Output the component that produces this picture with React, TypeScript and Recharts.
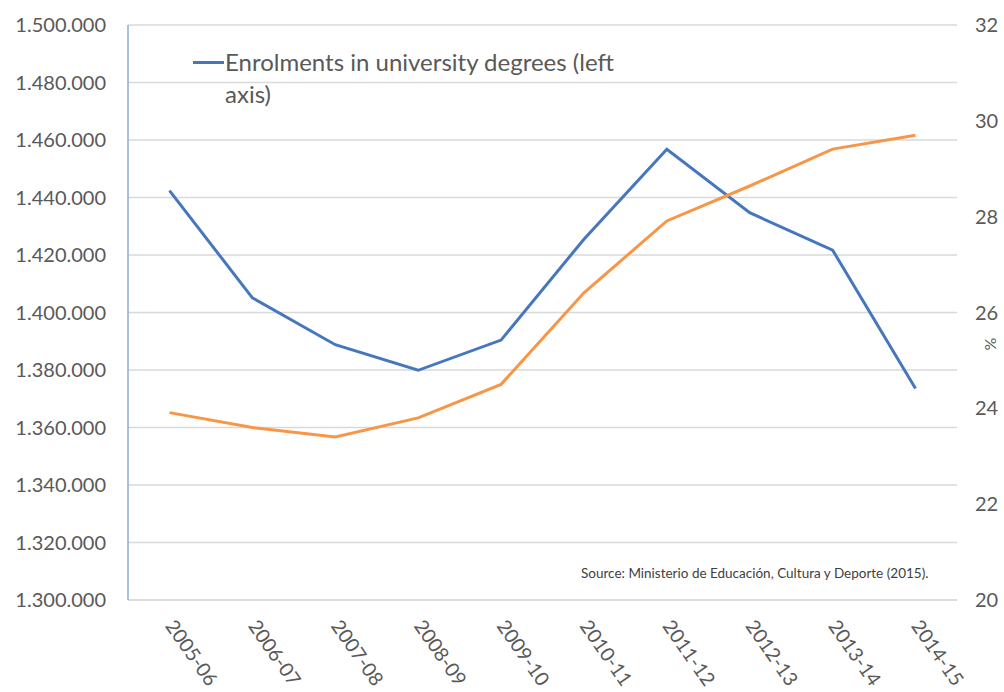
import React from 'react';
import { LineChart, Line, XAxis, YAxis, CartesianGrid } from 'recharts';

// academic years on the x axis
const years = [
    '2005-06', '2006-07', '2007-08', '2008-09', '2009-10',
    '2010-11', '2011-12', '2012-13', '2013-14', '2014-15',
];

// left axis: number of students enrolled
const enrolments = [
    1442400, 1405100, 1388800, 1379900, 1390400,
    1425500, 1456800, 1434700, 1421700, 1373600,
];

// right axis: percentage
const percentShare = [23.91, 23.6, 23.4, 23.8, 24.5, 26.41, 27.91, 28.64, 29.41, 29.7];

const leftTicks = [
    1300000, 1320000, 1340000, 1360000, 1380000, 1400000,
    1420000, 1440000, 1460000, 1480000, 1500000,
];
const rightTicks = [20, 22, 24, 26, 28, 30, 32];

const enrolmentsName = 'Enrolments in university degrees (left axis)';
const percentName = 'Percentage (right axis)';
const sourceNote = 'Source: Ministerio de Educación, Cultura y Deporte (2015).';

const data = years.map((year, i) => ({
    year,
    enrolments: enrolments[i],
    percent: percentShare[i],
}));

const BLUE = '#4677BE';
const ORANGE = '#F79646';
const TEXT = '#595959';
const GRID = '#D9D9D9';

const formatThousands = (v: number) => String(v).replace(/\B(?=(\d{3})+(?!\d))/g, '.');

const YearTick = ({ x, y, payload }: any) => {
    const ax = x - 5;
    const ay = y + 18;
    return (
        <text x={ax} y={ay} transform={`rotate(55, ${ax}, ${ay})`} textAnchor="start" fill={TEXT} fontSize={19.5}>
            {payload.value}
        </text>
    );
};

export default function App() {
    return (
        <div style={{ position: 'absolute', left: 0, top: 0, width: 1004, height: 692, background: '#fff', fontFamily: 'Lato, sans-serif' }}>
            <LineChart width={1004} height={692} data={data} margin={{ top: 25, right: 0, bottom: 0, left: 0 }}>
                <CartesianGrid yAxisId="left" vertical={false} stroke={GRID} strokeWidth={1.5} />
                <XAxis
                    dataKey="year"
                    height={92}
                    padding={{ left: 41.5, right: 41.5 }}
                    tickLine={false}
                    axisLine={{ stroke: GRID, strokeWidth: 1.5 }}
                    tick={<YearTick />}
                    interval={0}
                />
                <YAxis
                    yAxisId="left"
                    width={128}
                    domain={[1300000, 1500000]}
                    ticks={leftTicks}
                    tickFormatter={formatThousands}
                    tickLine={false}
                    axisLine={{ stroke: '#8FAADC', strokeWidth: 1.5 }}
                    tickMargin={16}
                    tick={{ fill: TEXT, fontSize: 20 }}
                />
                <YAxis
                    yAxisId="right"
                    orientation="right"
                    width={47}
                    domain={[20, 32]}
                    ticks={rightTicks}
                    tickLine={false}
                    axisLine={false}
                    tickMargin={12}
                    tick={{ fill: TEXT, fontSize: 20 }}
                />
                <Line
                    yAxisId="left"
                    dataKey="enrolments"
                    name={enrolmentsName}
                    stroke={BLUE}
                    strokeWidth={3}
                    dot={false}
                    activeDot={false}
                    isAnimationActive={false}
                />
                <Line
                    yAxisId="right"
                    dataKey="percent"
                    name={percentName}
                    stroke={ORANGE}
                    strokeWidth={3}
                    dot={false}
                    activeDot={false}
                    isAnimationActive={false}
                />
            </LineChart>
            {/* legend shows only the enrolments series, as in the original */}
            <div style={{ position: 'absolute', left: 193, top: 46, display: 'flex', alignItems: 'flex-start' }}>
                <span style={{ display: 'inline-block', width: 31, height: 3, background: BLUE, marginTop: 15, marginRight: 1 }} />
                <span style={{ fontSize: 24, lineHeight: '32px', color: TEXT, whiteSpace: 'pre-line' }}>
                    {enrolmentsName.replace(' axis)', '\naxis)')}
                </span>
            </div>
            <div style={{ position: 'absolute', left: 581, top: 565, fontSize: 13.5, color: '#404040', whiteSpace: 'nowrap' }}>
                {sourceNote}
            </div>
            <div style={{ position: 'absolute', left: 982, top: 334, width: 16, height: 20, fontSize: 16, color: TEXT, textAlign: 'center', transform: 'rotate(-90deg)' }}>
                %
            </div>
        </div>
    );
}
